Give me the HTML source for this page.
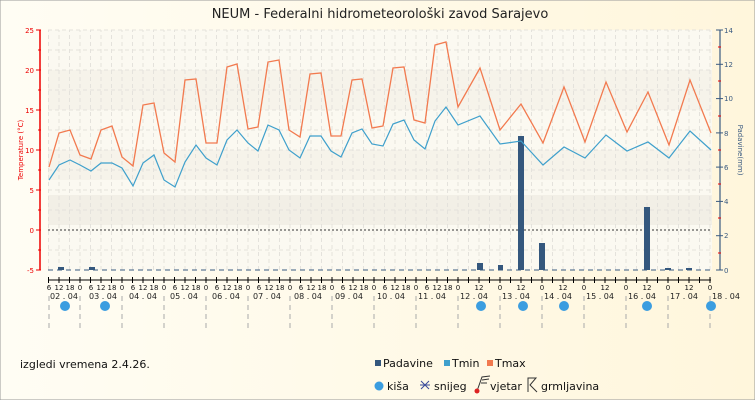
<!DOCTYPE html>
<html><head><meta charset="utf-8"><style>
body{margin:0;width:755px;height:400px;overflow:hidden;font-family:"Liberation Sans","DejaVu Sans",sans-serif}
</style></head><body>
<svg width="755" height="400" xmlns="http://www.w3.org/2000/svg" font-family="DejaVu Sans, Liberation Sans, sans-serif">
<defs>
<linearGradient id="bg" x1="0" y1="0" x2="1" y2="0"><stop offset="0" stop-color="#fffdf4"/><stop offset="1" stop-color="#fff6dc"/></linearGradient>
<pattern id="vg" x="48" y="0" width="10.5" height="400" patternUnits="userSpaceOnUse"><line x1="0.5" y1="0" x2="0.5" y2="400" stroke="#e4e2dc" stroke-dasharray="4,3"/></pattern>
</defs>
<rect x="0" y="0" width="755" height="400" fill="url(#bg)" stroke="#999"/>
<text x="380" y="18" font-size="13" text-anchor="middle" fill="#222">NEUM - Federalni hidrometeorološki zavod Sarajevo</text>
<rect x="48" y="30" width="664" height="240" fill="#fbf9f1"/>
<rect x="48" y="70" width="664" height="40" fill="#f6f3ea"/>
<rect x="48" y="150" width="664" height="30" fill="#f6f3ea"/>
<rect x="48" y="195" width="664" height="30" fill="#f2efe6"/>
<rect x="48" y="30" width="664" height="240" fill="url(#vg)"/>
<g stroke="#e4e2dc" stroke-dasharray="4,3">
<line x1="48" y1="30" x2="712" y2="30"/><line x1="48" y1="50" x2="712" y2="50"/><line x1="48" y1="70" x2="712" y2="70"/><line x1="48" y1="90" x2="712" y2="90"/><line x1="48" y1="110" x2="712" y2="110"/><line x1="48" y1="130" x2="712" y2="130"/><line x1="48" y1="150" x2="712" y2="150"/><line x1="48" y1="170" x2="712" y2="170"/><line x1="48" y1="190" x2="712" y2="190"/><line x1="48" y1="210" x2="712" y2="210"/><line x1="48" y1="250" x2="712" y2="250"/>
</g>
<line x1="48" y1="230" x2="712" y2="230" stroke="#333" stroke-dasharray="2,2"/>
<line x1="48" y1="270" x2="712" y2="270" stroke="#3a5a80" stroke-dasharray="5,4"/>
<g fill="#e00" font-size="7" text-anchor="end">
<line x1="40" y1="30" x2="40" y2="270" stroke="#e00" stroke-width="1.5"/>
<g stroke="#e00"><line x1="36" y1="30" x2="41" y2="30"/><line x1="36" y1="70" x2="41" y2="70"/><line x1="36" y1="110" x2="41" y2="110"/><line x1="36" y1="150" x2="41" y2="150"/><line x1="36" y1="190" x2="41" y2="190"/><line x1="36" y1="230" x2="41" y2="230"/><line x1="36" y1="270" x2="41" y2="270"/>
<line x1="38" y1="50" x2="41" y2="50"/><line x1="38" y1="90" x2="41" y2="90"/><line x1="38" y1="130" x2="41" y2="130"/><line x1="38" y1="170" x2="41" y2="170"/><line x1="38" y1="210" x2="41" y2="210"/><line x1="38" y1="250" x2="41" y2="250"/></g>
<text x="34" y="33">25</text><text x="34" y="73">20</text><text x="34" y="113">15</text><text x="34" y="153">10</text><text x="34" y="193">5</text><text x="34" y="233">0</text><text x="34" y="273">-5</text>
<text transform="translate(23,150) rotate(-90)" text-anchor="middle" font-size="7">Temperature (°C)</text>
</g>
<g fill="#3a5a80" font-size="7">
<line x1="720" y1="30" x2="720" y2="270" stroke="#3a5a80" stroke-width="1.2"/>
<g stroke="#3a5a80"><line x1="716" y1="30" x2="723" y2="30"/><line x1="716" y1="64.3" x2="723" y2="64.3"/><line x1="716" y1="98.6" x2="723" y2="98.6"/><line x1="716" y1="132.9" x2="723" y2="132.9"/><line x1="716" y1="167.1" x2="723" y2="167.1"/><line x1="716" y1="201.4" x2="723" y2="201.4"/><line x1="716" y1="235.7" x2="723" y2="235.7"/><line x1="716" y1="270" x2="723" y2="270"/></g>
<g stroke="#e00"><line x1="718" y1="47" x2="721" y2="47"/><line x1="718" y1="81" x2="721" y2="81"/><line x1="718" y1="116" x2="721" y2="116"/><line x1="718" y1="150" x2="721" y2="150"/><line x1="718" y1="184" x2="721" y2="184"/><line x1="718" y1="218" x2="721" y2="218"/><line x1="718" y1="253" x2="721" y2="253"/></g>
<text x="724" y="33">14</text><text x="724" y="67">12</text><text x="724" y="101">10</text><text x="724" y="136">8</text><text x="724" y="170">6</text><text x="724" y="204">4</text><text x="724" y="238">2</text><text x="724" y="273">0</text>
<text transform="translate(738,150) rotate(90)" text-anchor="middle" font-size="7">Padavine(mm)</text>
</g>
<g fill="#34577d">
<rect x="58" y="267" width="6" height="3"/><rect x="89" y="267" width="6" height="3"/>
<rect x="477" y="263" width="6" height="7"/><rect x="498" y="265" width="5" height="5"/>
<rect x="518" y="136" width="6" height="134"/><rect x="539" y="243" width="6" height="27"/>
<rect x="644" y="207" width="6" height="63"/><rect x="665" y="268" width="6" height="2"/><rect x="686" y="268" width="6" height="2"/>
</g>
<polyline fill="none" stroke="#f27a4f" stroke-width="1.3" points="49,167 59,133 70,130 80,155 91,159 101,130 112,126 122,157 133,166 143,105 154,103 164,153 175,162 185,80 196,79 206,143 217,143 227,67 237,64 248,129 258,127 268,62 279,60 289,130 300,137 310,74 321,73 331,136 341,136 352,80 362,79 372,128 383,126 393,68 404,67 414,120 425,123 435,45 446,42 458,107 480,68 500,130 521,104 543,143 564,87 585,142 606,82 627,132 648,92 669,145 690,80 711,133"/>
<polyline fill="none" stroke="#3fa0cc" stroke-width="1.2" points="49,180 59,165 70,160 80,165 91,171 101,163 112,163 122,168 133,186 143,163 154,155 164,180 175,187 185,162 196,145 206,158 217,165 227,140 237,130 248,143 258,151 268,125 279,130 289,150 300,158 310,136 321,136 331,151 341,157 352,133 362,129 372,144 383,146 393,124 404,120 414,140 425,149 435,121 446,107 458,125 480,116 500,144 521,141 543,165 564,147 585,158 606,135 627,151 648,142 669,158 690,131 711,150"/>
<line x1="48" y1="280" x2="711" y2="280" stroke="#000"/>
<g stroke="#000">
<line x1="48.5" y1="277" x2="48.5" y2="283"/><line x1="59" y1="277" x2="59" y2="283"/><line x1="69.5" y1="277" x2="69.5" y2="283"/><line x1="80" y1="277" x2="80" y2="283"/><line x1="90.5" y1="277" x2="90.5" y2="283"/><line x1="101" y1="277" x2="101" y2="283"/><line x1="111.5" y1="277" x2="111.5" y2="283"/><line x1="122" y1="277" x2="122" y2="283"/><line x1="132.5" y1="277" x2="132.5" y2="283"/><line x1="143" y1="277" x2="143" y2="283"/><line x1="153.5" y1="277" x2="153.5" y2="283"/><line x1="164" y1="277" x2="164" y2="283"/><line x1="174.5" y1="277" x2="174.5" y2="283"/><line x1="185" y1="277" x2="185" y2="283"/><line x1="195.5" y1="277" x2="195.5" y2="283"/><line x1="206" y1="277" x2="206" y2="283"/><line x1="216.5" y1="277" x2="216.5" y2="283"/><line x1="227" y1="277" x2="227" y2="283"/><line x1="237.5" y1="277" x2="237.5" y2="283"/><line x1="248" y1="277" x2="248" y2="283"/><line x1="258.5" y1="277" x2="258.5" y2="283"/><line x1="269" y1="277" x2="269" y2="283"/><line x1="279.5" y1="277" x2="279.5" y2="283"/><line x1="290" y1="277" x2="290" y2="283"/><line x1="300.5" y1="277" x2="300.5" y2="283"/><line x1="311" y1="277" x2="311" y2="283"/><line x1="321.5" y1="277" x2="321.5" y2="283"/><line x1="332" y1="277" x2="332" y2="283"/><line x1="342.5" y1="277" x2="342.5" y2="283"/><line x1="353" y1="277" x2="353" y2="283"/><line x1="363.5" y1="277" x2="363.5" y2="283"/><line x1="374" y1="277" x2="374" y2="283"/><line x1="384.5" y1="277" x2="384.5" y2="283"/><line x1="395" y1="277" x2="395" y2="283"/><line x1="405.5" y1="277" x2="405.5" y2="283"/><line x1="416" y1="277" x2="416" y2="283"/><line x1="426.5" y1="277" x2="426.5" y2="283"/><line x1="437" y1="277" x2="437" y2="283"/><line x1="447.5" y1="277" x2="447.5" y2="283"/><line x1="458" y1="277" x2="458" y2="283"/><line x1="468.5" y1="277" x2="468.5" y2="283"/><line x1="479" y1="277" x2="479" y2="283"/><line x1="489.5" y1="277" x2="489.5" y2="283"/><line x1="500" y1="277" x2="500" y2="283"/><line x1="510.5" y1="277" x2="510.5" y2="283"/><line x1="521" y1="277" x2="521" y2="283"/><line x1="531.5" y1="277" x2="531.5" y2="283"/><line x1="542" y1="277" x2="542" y2="283"/><line x1="552.5" y1="277" x2="552.5" y2="283"/><line x1="563" y1="277" x2="563" y2="283"/><line x1="573.5" y1="277" x2="573.5" y2="283"/><line x1="584" y1="277" x2="584" y2="283"/><line x1="594.5" y1="277" x2="594.5" y2="283"/><line x1="605" y1="277" x2="605" y2="283"/><line x1="615.5" y1="277" x2="615.5" y2="283"/><line x1="626" y1="277" x2="626" y2="283"/><line x1="636.5" y1="277" x2="636.5" y2="283"/><line x1="647" y1="277" x2="647" y2="283"/><line x1="657.5" y1="277" x2="657.5" y2="283"/><line x1="668" y1="277" x2="668" y2="283"/><line x1="678.5" y1="277" x2="678.5" y2="283"/><line x1="689" y1="277" x2="689" y2="283"/><line x1="699.5" y1="277" x2="699.5" y2="283"/><line x1="710" y1="277" x2="710" y2="283"/>
</g>
<g font-size="7" text-anchor="middle" fill="#111">
<text x="49" y="290">6</text><text x="59" y="290">12</text><text x="70" y="290">18</text><text x="80" y="290">0</text><text x="91" y="290">6</text><text x="101" y="290">12</text><text x="112" y="290">18</text><text x="122" y="290">0</text><text x="133" y="290">6</text><text x="143" y="290">12</text><text x="154" y="290">18</text><text x="164" y="290">0</text><text x="175" y="290">6</text><text x="185" y="290">12</text><text x="196" y="290">18</text><text x="206" y="290">0</text><text x="217" y="290">6</text><text x="227" y="290">12</text><text x="238" y="290">18</text><text x="248" y="290">0</text><text x="259" y="290">6</text><text x="269" y="290">12</text><text x="280" y="290">18</text><text x="290" y="290">0</text><text x="301" y="290">6</text><text x="311" y="290">12</text><text x="322" y="290">18</text><text x="332" y="290">0</text><text x="343" y="290">6</text><text x="353" y="290">12</text><text x="364" y="290">18</text><text x="374" y="290">0</text><text x="385" y="290">6</text><text x="395" y="290">12</text><text x="406" y="290">18</text><text x="416" y="290">0</text><text x="427" y="290">6</text><text x="437" y="290">12</text><text x="448" y="290">18</text><text x="458" y="290">0</text><text x="479" y="290">12</text><text x="500" y="290">0</text><text x="521" y="290">12</text><text x="542" y="290">0</text><text x="563" y="290">12</text><text x="584" y="290">0</text><text x="605" y="290">12</text><text x="626" y="290">0</text><text x="647" y="290">12</text><text x="668" y="290">0</text><text x="689" y="290">12</text><text x="710" y="290">0</text>
</g>
<g font-size="8" text-anchor="middle" fill="#222">
<text x="64" y="299">02 . 04</text><text x="103" y="299">03 . 04</text><text x="143" y="299">04 . 04</text><text x="184" y="299">05 . 04</text><text x="226" y="299">06 . 04</text><text x="267" y="299">07 . 04</text><text x="308" y="299">08 . 04</text><text x="349" y="299">09 . 04</text><text x="391" y="299">10 . 04</text><text x="432" y="299">11 . 04</text><text x="474" y="299">12 . 04</text><text x="516" y="299">13 . 04</text><text x="558" y="299">14 . 04</text><text x="600" y="299">15 . 04</text><text x="642" y="299">16 . 04</text><text x="684" y="299">17 . 04</text><text x="726" y="299">18 . 04</text>
</g>
<g stroke="#aaa" stroke-dasharray="5,4">
<line x1="49" y1="296" x2="49" y2="330"/><line x1="80" y1="296" x2="80" y2="330"/><line x1="122" y1="296" x2="122" y2="330"/><line x1="164" y1="296" x2="164" y2="330"/><line x1="206" y1="296" x2="206" y2="330"/><line x1="248" y1="296" x2="248" y2="330"/><line x1="290" y1="296" x2="290" y2="330"/><line x1="332" y1="296" x2="332" y2="330"/><line x1="374" y1="296" x2="374" y2="330"/><line x1="416" y1="296" x2="416" y2="330"/><line x1="458" y1="296" x2="458" y2="330"/><line x1="500" y1="296" x2="500" y2="330"/><line x1="542" y1="296" x2="542" y2="330"/><line x1="584" y1="296" x2="584" y2="330"/><line x1="626" y1="296" x2="626" y2="330"/><line x1="668" y1="296" x2="668" y2="330"/><line x1="710" y1="296" x2="710" y2="330"/>
</g>
<g fill="#3b9de0">
<circle cx="65" cy="306" r="5"/><circle cx="105" cy="306" r="5"/><circle cx="481" cy="306" r="5"/><circle cx="523" cy="306" r="5"/><circle cx="564" cy="306" r="5"/><circle cx="647" cy="306" r="5"/><circle cx="711" cy="306" r="5"/>
</g>
<text x="20" y="368" font-size="11" fill="#111">izgledi vremena 2.4.26.</text>
<g font-size="11" fill="#111">
<rect x="375" y="360" width="6" height="6" fill="#34577d"/><text x="383" y="367">Padavine</text>
<rect x="444" y="360" width="6" height="6" fill="#3fa0cc"/><text x="452" y="367">Tmin</text>
<rect x="487" y="360" width="6" height="6" fill="#f27a4f"/><text x="495" y="367">Tmax</text>
<circle cx="379" cy="386" r="4.5" fill="#3b9de0"/><text x="387" y="390">kiša</text>
<path d="M421,381 L429,389 M429,381 L421,389 M420,385 L430,385" stroke="#3a4a9a" stroke-width="1"/><text x="434" y="390">snijeg</text>
<path d="M477,391 L482,377 L490,376 M482,380 L489,379 M481,383 L487,383" stroke="#333" fill="none"/><circle cx="477" cy="391" r="2.5" fill="#d22"/><text x="490" y="390">vjetar</text>
<path d="M528,392 L528,378 L536,378 L530,385 L537,392" stroke="#333" fill="none"/><text x="541" y="390">grmljavina</text>
</g>
</svg>
</body></html>
